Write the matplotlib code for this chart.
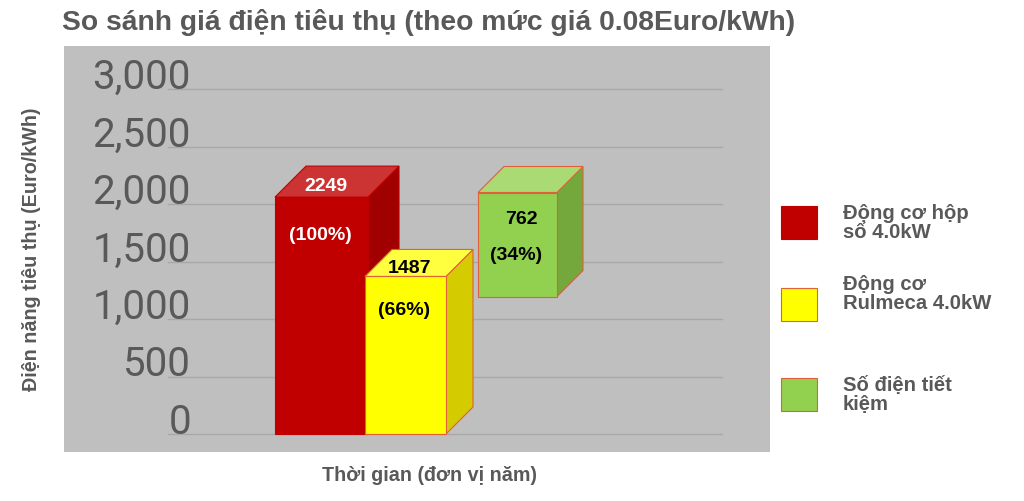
import matplotlib
matplotlib.use("Agg")
import matplotlib.pyplot as plt
from matplotlib.patches import Polygon, Rectangle

# dữ liệu
series = ['Động cơ hộp\nsố 4.0kW', 'Động cơ\nRulmeca 4.0kW', 'Số điện tiết\nkiệm']
values = [2249, 1487, 762]
percents = ['(100%)', '(66%)', '(34%)']
# mặt trước của khối, đọc trên trục y
front_bottom = [0, 0, 1195]
front_top = [2060, 1370, 2100]
yticks = [0, 500, 1000, 1500, 2000, 2500, 3000]
ytick_labels = ['0', '500', '1,000', '1,500', '2,000', '2,500', '3,000']

# bố cục (đơn vị x: 100 px)
bar_left = [2.11, 3.01, 4.14]
bar_width = [0.93, 0.81, 0.79]
depth_px = [31, 27, 26]
px_per_unit = 345 / 3000
val_y = [2165, 1452, 1870]
pct_y = [1739, 1087, 1557]

c_front = ['#C00000', '#FFFF00', '#92D050']
c_top = ['#CC3333', '#FFFF40', '#A9DA74']
c_side = ['#A00000', '#D4CC00', '#74A83C']
c_edge = ['#C00000', '#E0603A', '#E0603A']
c_txt = ['white', 'black', 'black']
GRAY_TXT = '#595959'

fam = ['Liberation Sans', 'DejaVu Sans']

fig = plt.figure(figsize=(10.24, 5.02), dpi=100)
ax = fig.add_axes([64 / 1024, 1 - 453 / 502, 706 / 1024, 406 / 502])
ax.set_facecolor('#BFBFBF')
ax.set_xlim(0, 7.06)
ax.set_ylim(-156.5, 3374)
for s in ax.spines.values():
    s.set_visible(False)
ax.set_xticks([])
ax.set_yticks([])

for v, lab in zip(yticks, ytick_labels):
    ax.plot([1.04, 6.58], [v, v], color='#A8A8A8', lw=1, zorder=1)
    ax.text(1.27, v + 10, lab, ha='right', va='baseline', fontsize=29,
            color=GRAY_TXT, family=['Roboto', 'DejaVu Sans'], zorder=2)

for i in range(len(values)):
    x0 = bar_left[i]
    x1 = x0 + bar_width[i]
    dx = depth_px[i] / 100
    dy = depth_px[i] / px_per_unit
    b, t = front_bottom[i], front_top[i]
    z = 3 + i
    side = Polygon([(x1, b), (x1 + dx, b + dy), (x1 + dx, t + dy), (x1, t)],
                   closed=True, fc=c_side[i], ec=c_edge[i], lw=0.8, zorder=z)
    top = Polygon([(x0, t), (x1, t), (x1 + dx, t + dy), (x0 + dx, t + dy)],
                  closed=True, fc=c_top[i], ec=c_edge[i], lw=0.8, zorder=z)
    front = Rectangle((x0, b), x1 - x0, t - b, fc=c_front[i], ec=c_edge[i],
                      lw=0.8, zorder=z)
    for p in (side, top, front):
        ax.add_patch(p)
    cx = (x0 + x1) / 2 + 0.04
    ax.text(cx, val_y[i], str(values[i]), ha='center', va='center',
            fontsize=14, fontweight='bold', color=c_txt[i], family=fam,
            zorder=z + 0.5)
    ax.text(cx - 0.05, pct_y[i], percents[i], ha='center', va='center',
            fontsize=14, fontweight='bold', color=c_txt[i], family=fam,
            zorder=z + 0.5)

# tiêu đề và nhãn trục
fig.text(62 / 1024, 1 - 23 / 502,
         'So sánh giá điện tiêu thụ (theo mức giá 0.08Euro/kWh)',
         ha='left', va='center', fontsize=20.3, fontweight='bold',
         color=GRAY_TXT, family=fam)
fig.text(32 / 1024, 1 - 249 / 502, 'Điện năng tiêu thụ (Euro/kWh)',
         rotation=90, ha='center', va='center', fontsize=14.2,
         fontweight='bold', color=GRAY_TXT, family=fam)
fig.text(430 / 1024, 1 - 476 / 502, 'Thời gian (đơn vị năm)',
         ha='center', va='center', fontsize=14.2, fontweight='bold',
         color=GRAY_TXT, family=fam)

# chú giải
leg_top = [207, 289, 379]
leg_text_y = [223, 294, 395]
for i, name in enumerate(series):
    fig.patches.append(Rectangle((781 / 1024, 1 - (leg_top[i] + 33) / 502),
                                 36 / 1024, 33 / 502, fc=c_front[i],
                                 ec=c_edge[i], lw=0.8,
                                 transform=fig.transFigure, figure=fig))
    fig.text(843 / 1024, 1 - leg_text_y[i] / 502, name, ha='left',
             va='center', fontsize=14.6, fontweight='bold', color=GRAY_TXT,
             family=fam, linespacing=1.0)

fig.savefig('out.png', dpi=100)
